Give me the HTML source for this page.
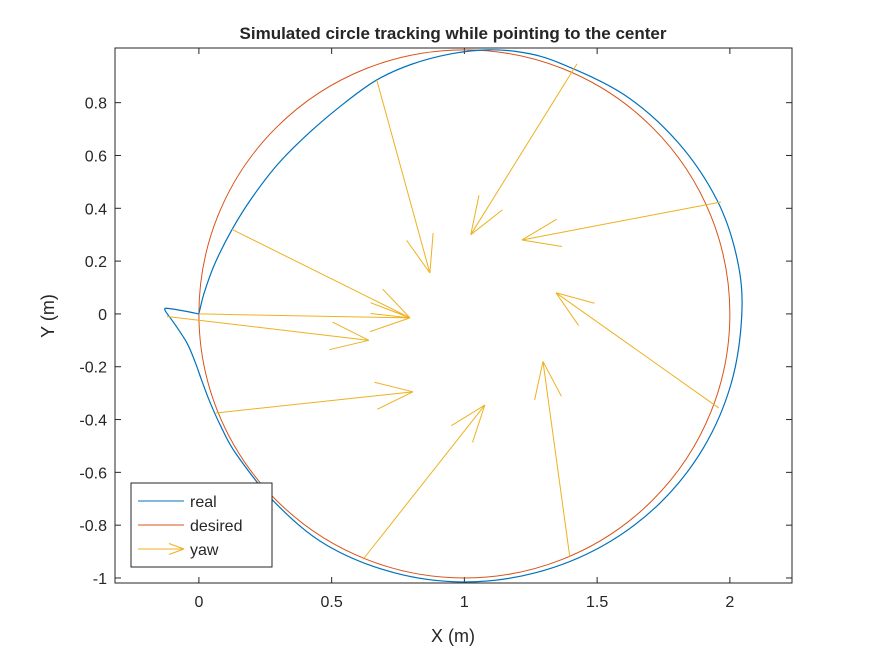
<!DOCTYPE html>
<html><head><meta charset="utf-8"><style>
body{margin:0;background:#fff;}
svg text{font-family:"Liberation Sans",Arial,sans-serif;fill:#262626;}
</style></head><body>
<svg id="chart" width="875" height="656" viewBox="0 0 875 656">
<rect x="0" y="0" width="875" height="656" fill="#fff"/>
<g id="plot"></g>
<text x="453" y="39" text-anchor="middle" font-size="17" font-weight="bold" fill="#000">Simulated circle tracking while pointing to the center</text>
<text x="453" y="642" text-anchor="middle" font-size="18">X (m)</text>
<text transform="translate(54,316) rotate(-90)" text-anchor="middle" font-size="18">Y (m)</text>
</svg>
<script>
const xTicks=[0,0.5,1,1.5,2];
const xTickLabels=["0","0.5","1","1.5","2"];
const yTicks=[-1,-0.8,-0.6,-0.4,-0.2,0,0.2,0.4,0.6,0.8];
const yTickLabels=["-1","-0.8","-0.6","-0.4","-0.2","0","0.2","0.4","0.6","0.8"];
const realX=[0,0.02,0.06,0.125,0.2,0.3,0.42,0.55,0.67,0.8,0.95,1.09,1.22,1.359,1.602,1.804,1.952,2.027,2.045,2.005,1.90,1.735,1.52,1.269,1.0,0.735,0.48,0.286,0.14,0.08,0.04,0.01,-0.015,-0.045,-0.09,-0.128,-0.11,-0.05,0];
const realY=[0,0.08,0.19,0.32,0.44,0.57,0.69,0.80,0.886,0.945,0.985,1.0,0.99,0.95,0.83,0.65,0.43,0.21,0,-0.263,-0.508,-0.718,-0.879,-0.98,-1.015,-0.98,-0.875,-0.714,-0.53,-0.42,-0.33,-0.25,-0.18,-0.11,-0.04,0.015,0.02,0.01,0];
const desiredCenter=[1,0];
const desiredRadius=1;
const yawX0=[0,-0.12,0.125,0.67,1.424,1.966,1.958,1.397,0.618,0.064];
const yawY0=[0,-0.01,0.32,0.886,0.947,0.424,-0.356,-0.92,-0.93,-0.375];
const yawX1=[0.795,0.64,0.795,0.87,1.024,1.217,1.345,1.296,1.077,0.806];
const yawY1=[-0.015,-0.10,-0.015,0.155,0.30,0.28,0.08,-0.18,-0.345,-0.295];

const X0=115,X1=792,Y0=48,Y1=583,xmin=-0.316,xmax=2.234,ymin=-1.019,ymax=1.007;
const sx=v=>X0+(v-xmin)/(xmax-xmin)*(X1-X0);
const sy=v=>Y1-(v-ymin)/(ymax-ymin)*(Y1-Y0);
const NS="http://www.w3.org/2000/svg";
const g=document.getElementById('plot');
function mk(t,a,p){const e=document.createElementNS(NS,t);for(const k in a)e.setAttribute(k,a[k]);(p||g).appendChild(e);return e;}

const frame=mk('rect',{x:X0,y:Y0,width:X1-X0,height:Y1-Y0,fill:'#fff',stroke:'#262626','stroke-width':1});


xTicks.forEach((v,i)=>{
  const x=sx(v);
  mk('line',{x1:x,x2:x,y1:Y1,y2:Y1-6,stroke:'#262626'});
  mk('line',{x1:x,x2:x,y1:Y0,y2:Y0+6,stroke:'#262626'});
  const t=mk('text',{x:x,y:Y1+24,'text-anchor':'middle','font-size':16});
  t.textContent=xTickLabels[i];
  
  
});
yTicks.forEach((v,i)=>{
  const y=sy(v);
  mk('line',{x1:X0,x2:X0+6,y1:y,y2:y,stroke:'#262626'});
  mk('line',{x1:X1,x2:X1-6,y1:y,y2:y,stroke:'#262626'});
  const t=mk('text',{x:X0-8,y:y+6,'text-anchor':'end','font-size':16});
  t.textContent=yTickLabels[i];
  
  
});
const circ=mk('ellipse',{cx:sx(desiredCenter[0]),cy:sy(desiredCenter[1]),rx:sx(desiredCenter[0]+desiredRadius)-sx(desiredCenter[0]),ry:sy(desiredCenter[1])-sy(desiredCenter[1]+desiredRadius),fill:'none',stroke:'#D95319','stroke-width':1});


const P=realX.map((x,i)=>[sx(x),sy(realY[i])]);
let d='M'+P[0][0]+','+P[0][1];
for(let i=0;i<P.length-1;i++){
  const p0=P[Math.max(i-1,0)],p1=P[i],p2=P[i+1],p3=P[Math.min(i+2,P.length-1)];
  const c1=[p1[0]+(p2[0]-p0[0])/6,p1[1]+(p2[1]-p0[1])/6];
  const c2=[p2[0]-(p3[0]-p1[0])/6,p2[1]-(p3[1]-p1[1])/6];
  d+=` C${c1[0]},${c1[1]} ${c2[0]},${c2[1]} ${p2[0]},${p2[1]}`;
}
const rp=mk('path',{d:d,fill:'none',stroke:'#0072BD','stroke-width':1.2});


function arrow(x0,y0,x1,y1,parent,len){
  const gg=mk('g',{},parent);
  mk('line',{x1:x0,y1:y0,x2:x1,y2:y1,stroke:'#EDB120','stroke-width':1},gg);
  const a=Math.atan2(y1-y0,x1-x0),L=len||Math.hypot(x1-x0,y1-y0)*0.2,w=0.35;
  [a+w,a-w].forEach(b=>mk('line',{x1:x1,y1:y1,x2:x1-L*Math.cos(b),y2:y1-L*Math.sin(b),stroke:'#EDB120','stroke-width':1},gg));
  return gg;
}
yawX0.forEach((v,i)=>{
  const a=arrow(sx(v),sy(yawY0[i]),sx(yawX1[i]),sy(yawY1[i]));
  
  
});
const lg=mk('g',{});


mk('rect',{x:131,y:483,width:141,height:84,fill:'#fff',stroke:'#262626'},lg);
const labels=['real','desired','yaw'],cols=['#0072BD','#D95319','#EDB120'];
labels.forEach((l,i)=>{
  const y=501+i*24;
  const e=mk('g',{},lg);
  
  
  if(i<2) mk('line',{x1:138,x2:184,y1:y,y2:y,stroke:cols[i]},e);
  else arrow(138,y,184,y,e,16);
  const t=mk('text',{x:190,y:y+6,'font-size':16,fill:'#000'},e);
  t.textContent=l;
});
</script>
</body></html>
